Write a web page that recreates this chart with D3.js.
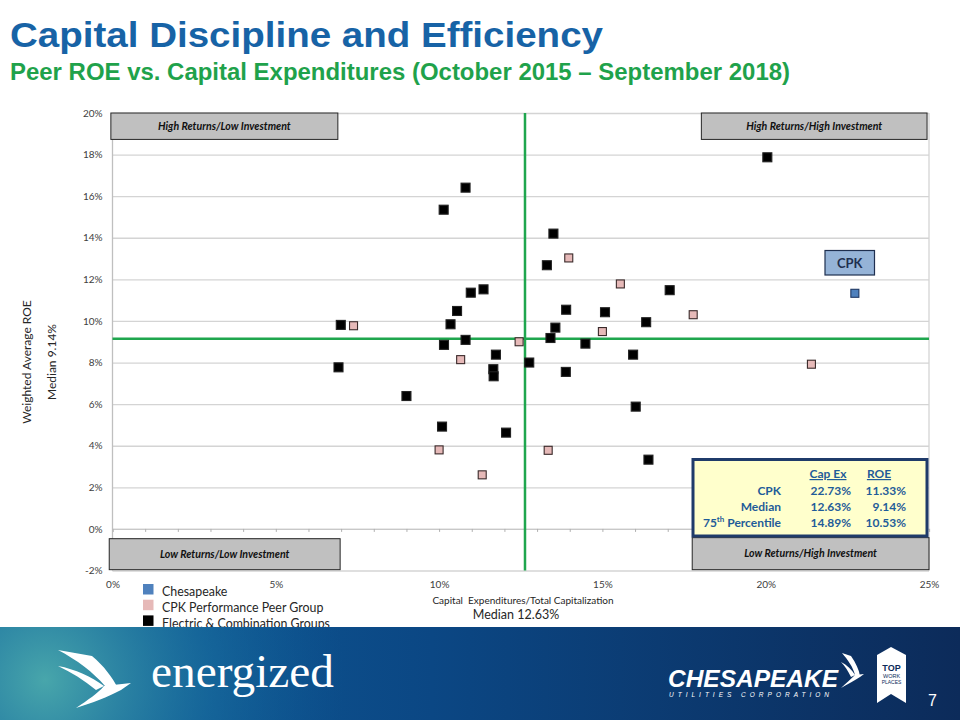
<!DOCTYPE html>
<html>
<head>
<meta charset="utf-8">
<script src="https://cdn.jsdelivr.net/npm/d3@7"></script>
<style>
  body { margin: 0; background: #fff; }
  svg { display: block; }
  .tick text { font-family: Lato, sans-serif; }
</style>
</head>
<body>
<div id="chart"></div>
<script>
// Data (percent values)

// Electric & Combination Groups
var electricCapex = [10.81, 10.14, 13.50, 13.30, 10.97, 11.36, 10.55, 13.89, 15.08, 6.99, 10.35,
  13.56, 10.81, 10.15, 13.41, 14.48, 15.94, 11.74, 12.76, 6.92, 11.66, 11.67, 13.88, 9.00,
  16.02, 10.09, 12.05, 20.05, 17.06, 16.34, 16.41];
var electricRoe = [16.41, 15.35, 14.20, 12.68, 11.36, 11.52, 10.48, 10.54, 10.42, 9.81, 9.84,
  9.68, 9.09, 8.85, 9.18, 8.91, 8.38, 8.38, 8.00, 7.77, 7.68, 7.34, 7.55, 6.39,
  5.88, 4.92, 4.63, 17.87, 11.48, 9.94, 3.33];

// CPK Performance Peer Group
var peerCapex = [13.97, 15.55, 7.38, 15.00, 12.45, 10.66, 10.00, 13.34, 11.32, 17.78, 21.40];
var peerRoe = [13.03, 11.78, 9.77, 9.49, 9.00, 8.14, 3.80, 3.78, 2.60, 10.30, 7.92];

// Chesapeake
var cpkCapex = [22.73];
var cpkRoe = [11.33];

var medianCapex = 12.63;
var medianRoe = 9.14;

var xTicks = [0, 5, 10, 15, 20, 25];
var yTicks = [-2, 0, 2, 4, 6, 8, 10, 12, 14, 16, 18, 20];

var tableRows = ["CPK", "Median", "75th Percentile"];
var tableCapex = ["22.73%", "12.63%", "14.89%"];
var tableRoe = ["11.33%", "9.14%", "10.53%"];

var legendLabels = ["Chesapeake", "CPK Performance Peer Group", "Electric & Combination Groups"];
var legendColors = ["#4f81bd", "#e6b9b8", "#000000"];

//SVG Setup
var svgWidth = 960;
var svgHeight = 720;

var svg = d3.select("#chart")
  .append("svg")
  .attr("width", svgWidth)
  .attr("height", svgHeight);

var defs = svg.append("defs");

// plot area bounds
var plotLeft = 112.5, plotRight = 929, plotTop = 113, plotBottom = 570.5;

var xLinearScale = d3.scaleLinear().domain([0, 25]).range([plotLeft, plotRight]);
var yLinearScale = d3.scaleLinear().domain([-2, 20]).range([plotBottom, plotTop]);

// Titles
svg.append("text")
  .attr("x", 10).attr("y", 47)
  .attr("textLength", 593).attr("lengthAdjust", "spacingAndGlyphs")
  .style("font-family", "Liberation Sans, Arial, sans-serif")
  .style("font-weight", "bold").style("font-size", "35px")
  .attr("fill", "#1763a6")
  .text("Capital Discipline and Efficiency");

svg.append("text")
  .attr("x", 10).attr("y", 80)
  .attr("textLength", 780).attr("lengthAdjust", "spacingAndGlyphs")
  .style("font-family", "Liberation Sans, Arial, sans-serif")
  .style("font-weight", "bold").style("font-size", "24px")
  .attr("fill", "#1fa24b")
  .text("Peer ROE vs. Capital Expenditures (October 2015 \u2013 September 2018)");

var chartGroup = svg.append("g");

// y axis with gridlines
var leftAxis = d3.axisLeft(yLinearScale)
  .tickValues(yTicks)
  .tickSize(-(plotRight - plotLeft))
  .tickPadding(10)
  .tickFormat(d => d + "%");

var yAxis = chartGroup.append("g")
  .attr("transform", `translate(${plotLeft}, 0)`)
  .call(leftAxis);
yAxis.select(".domain").remove();
yAxis.selectAll(".tick line").attr("stroke", "#d4d4d4").attr("stroke-width", 1.3);
yAxis.selectAll(".tick text").attr("fill", "#404040").style("font-size", "10px");

// plot frame left and right
chartGroup.append("line")
  .attr("x1", plotLeft).attr("x2", plotLeft)
  .attr("y1", plotTop).attr("y2", plotBottom)
  .attr("stroke", "#bfbfbf").attr("stroke-width", 1.3);
chartGroup.append("line")
  .attr("x1", plotRight).attr("x2", plotRight)
  .attr("y1", plotTop).attr("y2", plotBottom)
  .attr("stroke", "#d4d4d4").attr("stroke-width", 1.3);

// x axis labels at the bottom
var bottomAxis = d3.axisBottom(xLinearScale)
  .tickValues(xTicks)
  .tickSize(0)
  .tickPadding(10)
  .tickFormat(d => d + "%");
var xAxis = chartGroup.append("g")
  .attr("transform", `translate(0, ${plotBottom})`)
  .call(bottomAxis);
xAxis.select(".domain").remove();
xAxis.selectAll(".tick text").attr("fill", "#404040").style("font-size", "10px");

// minor tick marks on the 0% line
var zeroAxis = d3.axisBottom(xLinearScale)
  .tickValues(d3.range(0, 26, 1))
  .tickSize(3)
  .tickFormat("");
var zAxis = chartGroup.append("g")
  .attr("transform", `translate(0, ${yLinearScale(0)})`)
  .call(zeroAxis);
zAxis.select(".domain").attr("stroke", "#c8c8c8").attr("stroke-width", 1.3);
zAxis.selectAll(".tick line").attr("stroke", "#b0b0b0");

// Median lines
chartGroup.append("line")
  .attr("x1", xLinearScale(medianCapex)).attr("x2", xLinearScale(medianCapex))
  .attr("y1", plotTop).attr("y2", plotBottom)
  .attr("stroke", "#1fa64e").attr("stroke-width", 2.5);
chartGroup.append("line")
  .attr("x1", plotLeft).attr("x2", plotRight)
  .attr("y1", yLinearScale(medianRoe)).attr("y2", yLinearScale(medianRoe))
  .attr("stroke", "#1fa64e").attr("stroke-width", 2.5);

// Quadrant label boxes (given in data units)
var quadrants = [
  { label: "High Returns/Low Investment", x0: -0.05, x1: 6.9, y0: 18.73, y1: 20.0 },
  { label: "High Returns/High Investment", x0: 18.03, x1: 24.94, y0: 18.73, y1: 20.0 },
  { label: "Low Returns/Low Investment", x0: -0.1, x1: 6.97, y0: -1.96, y1: -0.47 },
  { label: "Low Returns/High Investment", x0: 17.75, x1: 25.0, y0: -1.96, y1: -0.42 }
];

var quadGroup = chartGroup.selectAll(".quad")
  .data(quadrants)
  .enter()
  .append("g");
quadGroup.append("rect")
  .attr("x", d => xLinearScale(d.x0))
  .attr("y", d => yLinearScale(d.y1))
  .attr("width", d => xLinearScale(d.x1) - xLinearScale(d.x0))
  .attr("height", d => yLinearScale(d.y0) - yLinearScale(d.y1))
  .attr("fill", "#c0c0c0").attr("stroke", "#262626").attr("stroke-width", 1);
quadGroup.append("text")
  .attr("x", d => (xLinearScale(d.x0) + xLinearScale(d.x1)) / 2)
  .attr("y", d => (yLinearScale(d.y0) + yLinearScale(d.y1)) / 2 + 3.8)
  .attr("text-anchor", "middle")
  .style("font-family", "Lato, sans-serif").style("font-size", "10.6px")
  .style("font-weight", "bold").style("font-style", "italic")
  .attr("fill", "#111")
  .text(d => d.label);

// Points
function drawSquares(xs, ys, size, fill, stroke) {
  chartGroup.append("g").selectAll("rect")
    .data(xs.map((v, i) => [v, ys[i]]))
    .enter()
    .append("rect")
    .attr("x", d => xLinearScale(d[0]) - size / 2)
    .attr("y", d => yLinearScale(d[1]) - size / 2)
    .attr("width", size).attr("height", size)
    .attr("fill", fill)
    .attr("stroke", stroke).attr("stroke-width", 1.1);
}
drawSquares(electricCapex, electricRoe, 9, "#000", "#222");
drawSquares(peerCapex, peerRoe, 8, "#e6b9b8", "#3a2a2a");
drawSquares(cpkCapex, cpkRoe, 8, "#4f81bd", "#1f3864");

// CPK call-out box
var cpkBox = chartGroup.append("g");
cpkBox.append("rect")
  .attr("x", 825).attr("y", 250.5)
  .attr("width", 49.5).attr("height", 24.5)
  .attr("fill", "#95b3d7").attr("stroke", "#1f2f4f").attr("stroke-width", 1.2);
cpkBox.append("text")
  .attr("x", 849.7).attr("y", 267.5)
  .attr("text-anchor", "middle")
  .style("font-family", "Lato, sans-serif").style("font-size", "13px").style("font-weight", "bold")
  .attr("fill", "#1f2f4f")
  .text("CPK");

// Summary table box
var tableGroup = chartGroup.append("g")
  .style("font-family", "Lato, sans-serif").style("font-size", "12px").style("font-weight", "bold")
  .attr("fill", "#1f5c99");
tableGroup.append("rect")
  .attr("x", 693).attr("y", 459.5)
  .attr("width", 234).attr("height", 76.5)
  .attr("fill", "#ffffcc").attr("stroke", "#1f3b6a").attr("stroke-width", 3);
tableGroup.append("text").attr("x", 828).attr("y", 478).attr("text-anchor", "middle")
  .attr("text-decoration", "underline").text("Cap Ex");
tableGroup.append("text").attr("x", 879).attr("y", 478).attr("text-anchor", "middle")
  .attr("text-decoration", "underline").text("ROE");

var rowY = [495, 511, 527];
tableRows.forEach(function(row, i) {
  var t = tableGroup.append("text").attr("x", 781).attr("y", rowY[i]).attr("text-anchor", "end");
  if (row.indexOf("th ") > 0) {
    var parts = row.split("th ");
    t.append("tspan").text(parts[0]);
    t.append("tspan").attr("dy", -5).style("font-size", "8px").text("th");
    t.append("tspan").attr("dy", 5).text(" " + parts[1]);
  } else {
    t.text(row);
  }
  tableGroup.append("text").attr("x", 851).attr("y", rowY[i]).attr("text-anchor", "end").text(tableCapex[i]);
  tableGroup.append("text").attr("x", 906).attr("y", rowY[i]).attr("text-anchor", "end").text(tableRoe[i]);
});

// Axis titles
var titleFont = "Lato, sans-serif";
svg.append("text")
  .attr("transform", "translate(31, 362) rotate(-90)")
  .attr("text-anchor", "middle")
  .style("font-family", titleFont).style("font-size", "12px")
  .attr("fill", "#262626")
  .text("Weighted Average ROE");
svg.append("text")
  .attr("transform", "translate(55.5, 362) rotate(-90)")
  .attr("text-anchor", "middle")
  .style("font-family", titleFont).style("font-size", "12px")
  .attr("fill", "#262626")
  .text("Median 9.14%");

svg.append("text")
  .attr("x", 523).attr("y", 604)
  .attr("text-anchor", "middle")
  .style("font-family", titleFont).style("font-size", "10px")
  .attr("fill", "#262626")
  .attr("xml:space", "preserve")
  .text("Capital  Expenditures/Total Capitalization");
svg.append("text")
  .attr("x", 516).attr("y", 619)
  .attr("text-anchor", "middle")
  .style("font-family", titleFont).style("font-size", "12.5px")
  .attr("fill", "#262626")
  .text("Median 12.63%");

// Legend
var legend = svg.append("g");
legendLabels.forEach(function(label, i) {
  legend.append("rect")
    .attr("x", 143).attr("y", 584 + i * 15.7)
    .attr("width", 10.5).attr("height", 10.5)
    .attr("fill", legendColors[i]);
  legend.append("text")
    .attr("x", 162).attr("y", 595.5 + i * 16.2)
    .style("font-family", titleFont).style("font-size", "12.4px")
    .attr("fill", "#262626")
    .text(label);
});

// Footer band
var lin = defs.append("linearGradient").attr("id", "bandLin");
lin.append("stop").attr("offset", "0%").attr("stop-color", "#0f5f9a");
lin.append("stop").attr("offset", "45%").attr("stop-color", "#0b4784");
lin.append("stop").attr("offset", "100%").attr("stop-color", "#0c2b5a");
var rad = defs.append("radialGradient").attr("id", "bandGlow")
  .attr("gradientUnits", "userSpaceOnUse")
  .attr("cx", 45).attr("cy", 680).attr("r", 300);
rad.append("stop").attr("offset", "0%").attr("stop-color", "#48a6ab").attr("stop-opacity", 1);
rad.append("stop").attr("offset", "55%").attr("stop-color", "#1d76a3").attr("stop-opacity", 0.5);
rad.append("stop").attr("offset", "100%").attr("stop-color", "#0f5f9a").attr("stop-opacity", 0);

var footer = svg.append("g");
footer.append("rect").attr("x", 0).attr("y", 627).attr("width", 960).attr("height", 93)
  .attr("fill", "url(#bandLin)");
footer.append("rect").attr("x", 0).attr("y", 627).attr("width", 960).attr("height", 93)
  .attr("fill", "url(#bandGlow)");

// energized bird mark
footer.append("path")
  .attr("fill", "#fff")
  .attr("d", "M58,650 L92,656 C104,666 112,677 118,688 L105,686 C93,672 77,660 58,650 Z " +
    "M58,666 C75,669 92,677 104,686 L96,690 C84,680 71,672 58,666 Z " +
    "M104,686 L131,683 L121,690 C108,697 92,703 76,708 C88,700 98,693 104,686 Z");
footer.append("text")
  .attr("x", 151).attr("y", 687)
  .attr("textLength", 183).attr("lengthAdjust", "spacingAndGlyphs")
  .style("font-family", "Liberation Serif, serif").style("font-size", "46px")
  .attr("fill", "#fff")
  .text("energized");

// Chesapeake logo
footer.append("text")
  .attr("x", 668).attr("y", 687)
  .attr("textLength", 170).attr("lengthAdjust", "spacingAndGlyphs")
  .style("font-family", "Liberation Sans, Arial, sans-serif").style("font-size", "23px")
  .style("font-weight", "bold").style("font-style", "italic")
  .attr("fill", "#fff")
  .text("CHESAPEAKE");
footer.append("text")
  .attr("x", 669).attr("y", 697)
  .attr("textLength", 160).attr("lengthAdjust", "spacing")
  .style("font-family", "Liberation Sans, Arial, sans-serif").style("font-size", "6.5px")
  .style("font-style", "italic")
  .attr("fill", "#fff")
  .text("UTILITIES CORPORATION");
footer.append("path")
  .attr("fill", "#fff")
  .attr("d", "M842,653 L851,656 C856,663 859,670 860,676 L855,675 C853,667 848,660 842,653 Z " +
    "M841,662 C847,665 852,670 855,675 L851,677 C848,671 845,666 841,662 Z " +
    "M855,675 L864,674 L860,677 C855,680 848,684 841,688 C846,683 851,679 855,675 Z");

// Top Work Places badge
footer.append("path")
  .attr("fill", "#fff")
  .attr("d", "M877,655 L891,647 L906,655 L906,703 L891,694 L877,703 Z");
footer.append("text").attr("x", 891.5).attr("y", 671).attr("text-anchor", "middle")
  .style("font-family", "Liberation Sans, Arial, sans-serif").style("font-size", "9px").style("font-weight", "bold")
  .attr("fill", "#0c2b5a").text("TOP");
footer.append("text").attr("x", 891.5).attr("y", 678).attr("text-anchor", "middle")
  .style("font-family", "Liberation Sans, Arial, sans-serif").style("font-size", "5.5px")
  .attr("fill", "#0c2b5a").text("WORK");
footer.append("text").attr("x", 891.5).attr("y", 684).attr("text-anchor", "middle")
  .style("font-family", "Liberation Sans, Arial, sans-serif").style("font-size", "5px")
  .attr("fill", "#0c2b5a").text("PLACES");

// page number
footer.append("text").attr("x", 928).attr("y", 706)
  .style("font-family", "Liberation Sans, Arial, sans-serif").style("font-size", "16px")
  .attr("fill", "#fff").text("7");
</script>
</body>
</html>
